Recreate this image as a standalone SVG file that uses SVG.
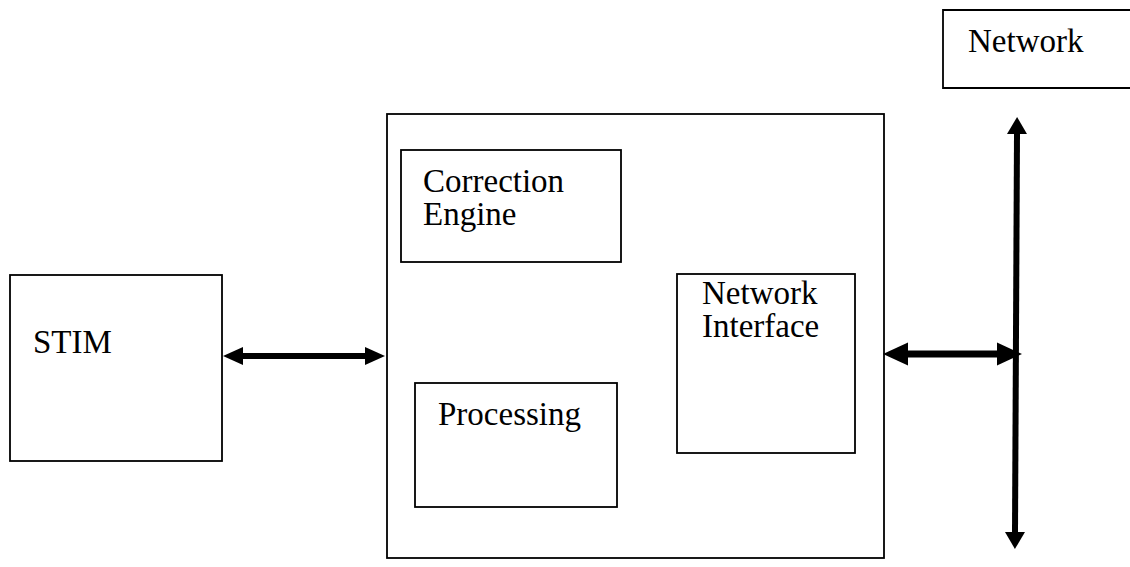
<svg xmlns="http://www.w3.org/2000/svg" width="1130" height="567" viewBox="0 0 1130 567">
  <style>
    .box { fill: none; stroke: #000; stroke-width: 1.8; }
    .label { font-family: "Liberation Serif", "Times New Roman", serif; font-size: 33px; fill: #000; }
    .wire { stroke: #000; fill: none; }
  </style>
  <defs>
    <marker id="headS" markerUnits="userSpaceOnUse" markerWidth="21" markerHeight="19" refX="0" refY="9" orient="auto-start-reverse" overflow="visible">
      <path d="M0,0 L20,9 L0,18 Z" fill="#000"/>
    </marker>
    <marker id="headL" markerUnits="userSpaceOnUse" markerWidth="26" markerHeight="24" refX="0" refY="11.5" orient="auto-start-reverse" overflow="visible">
      <path d="M0,0 L25,11.5 L0,23 Z" fill="#000"/>
    </marker>
    <marker id="headV" markerUnits="userSpaceOnUse" markerWidth="18" markerHeight="20" refX="0" refY="10" orient="auto-start-reverse" overflow="visible">
      <path d="M0,0 L17,10 L0,20 Z" fill="#000"/>
    </marker>
  </defs>

  <g id="network">
    <path class="box" d="M1130,10 H943 V88 H1130"/>
    <text class="label" x="968" y="52">Network</text>
  </g>

  <g id="stim">
    <rect class="box" x="10" y="275" width="212" height="186"/>
    <text class="label" x="33" y="353">STIM</text>
  </g>

  <g id="ncap">
    <rect class="box" x="387" y="114" width="497" height="444"/>
  </g>

  <g id="correction-engine">
    <rect class="box" x="401" y="150" width="220" height="112"/>
    <text class="label" x="423" y="192">Correction</text>
    <text class="label" x="423" y="225">Engine</text>
  </g>

  <g id="processing">
    <rect class="box" x="415" y="383" width="202" height="124"/>
    <text class="label" x="438" y="425">Processing</text>
  </g>

  <g id="network-interface">
    <rect class="box" x="677" y="274" width="178" height="179"/>
    <text class="label" x="702" y="304">Network</text>
    <text class="label" x="702" y="337">Interface</text>
  </g>

  <g id="connectors">
    <line class="wire" x1="243" y1="356" x2="365" y2="356" stroke-width="6" marker-start="url(#headS)" marker-end="url(#headS)"/>
    <line class="wire" x1="908" y1="354" x2="997" y2="354" stroke-width="7" marker-start="url(#headL)" marker-end="url(#headL)"/>
    <line class="wire" x1="1017" y1="134" x2="1015" y2="532" stroke-width="6" marker-start="url(#headV)" marker-end="url(#headV)"/>
  </g>
</svg>
